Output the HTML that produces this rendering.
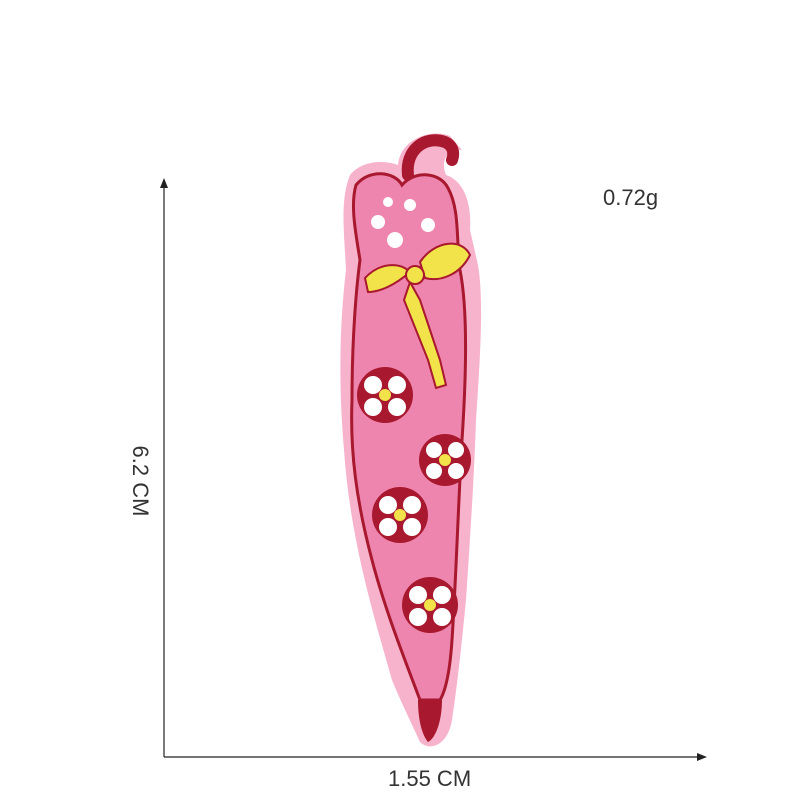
<!DOCTYPE html>
<html><head><meta charset="utf-8"><style>
html,body{margin:0;padding:0;background:#fff;}
#wrap{position:relative;width:800px;height:800px;overflow:hidden;font-family:"Liberation Sans",sans-serif;}
.lbl{position:absolute;color:#333;font-size:22px;}
</style></head><body>
<div id="wrap">
<svg width="800" height="800" viewBox="0 0 800 800">
  <g>
    <line x1="164" y1="184" x2="164" y2="757" stroke="#222" stroke-width="1.2"/>
    <polygon points="164,178 160,188 168,188" fill="#222"/>
    <line x1="164" y1="757" x2="700" y2="757" stroke="#222" stroke-width="1.2"/>
    <polygon points="707,757 697,753 697,761" fill="#222"/>
  </g>
  <g>
    <!-- outer light pink border -->
    <path d="M398,165 C400,140 430,128 450,136 L462,150 C448,148 440,160 446,175 C462,180 472,200 470,230 L478,265 C484,300 480,360 476,420 C474,480 470,540 466,600 C462,640 458,680 452,720 C448,745 430,752 420,742 C410,720 400,700 392,680 C375,620 350,540 344,450 C338,380 340,320 346,270 C344,230 340,200 350,175 C362,160 385,160 398,165 Z" fill="#f7b3cc"/>
    <!-- handle/hook -->
    <path d="M408,175 C405,150 425,135 445,142 C452,145 455,152 452,160" fill="none" stroke="#a8182e" stroke-width="12" stroke-linecap="round"/>
    <!-- inner body -->
    <path d="M356,185 C370,168 395,172 402,185 C415,170 440,172 448,188 C460,210 456,240 460,270 C468,310 466,380 462,440 C458,510 456,580 452,640 C450,670 446,690 440,700 L420,700 C405,660 385,610 372,560 C356,500 350,450 352,400 C352,340 356,290 360,260 C356,235 350,205 356,185 Z" fill="#ee85ae" stroke="#a8182e" stroke-width="3"/>
    <!-- tip -->
    <path d="M418,700 L442,700 C442,720 436,738 428,742 C422,735 418,720 418,700 Z" fill="#a8182e"/>
    <!-- heart top dots -->
    <g fill="#fff">
      <circle cx="378" cy="222" r="7"/><circle cx="395" cy="240" r="8"/><circle cx="410" cy="205" r="6"/>
      <circle cx="428" cy="225" r="7"/><circle cx="388" cy="202" r="5"/>
    </g>
    <!-- bow -->
    <g fill="#f2e34a" stroke="#a8182e" stroke-width="2">
      <path d="M365,278 C380,262 400,262 410,272 C395,285 380,292 368,292 Z"/>
      <path d="M420,262 C435,240 462,238 470,255 C460,275 440,282 425,278 Z"/>
      <path d="M410,282 L420,300 L430,330 L440,360 L446,385 L436,388 L428,360 L416,330 L404,300 Z"/>
      <circle cx="415" cy="275" r="9"/>
    </g>
    <!-- flowers -->
    <g>
      <g transform="translate(385,395)"><circle r="28" fill="#a8182e"/><circle cx="-12" cy="-10" r="9" fill="#fff"/><circle cx="12" cy="-10" r="9" fill="#fff"/><circle cx="-12" cy="12" r="9" fill="#fff"/><circle cx="12" cy="12" r="9" fill="#fff"/><circle r="6" fill="#f2e34a"/></g>
      <g transform="translate(445,460)"><circle r="26" fill="#a8182e"/><circle cx="-11" cy="-10" r="8" fill="#fff"/><circle cx="11" cy="-10" r="8" fill="#fff"/><circle cx="-11" cy="11" r="8" fill="#fff"/><circle cx="11" cy="11" r="8" fill="#fff"/><circle r="6" fill="#f2e34a"/></g>
      <g transform="translate(400,515)"><circle r="28" fill="#a8182e"/><circle cx="-12" cy="-10" r="9" fill="#fff"/><circle cx="12" cy="-10" r="9" fill="#fff"/><circle cx="-12" cy="12" r="9" fill="#fff"/><circle cx="12" cy="12" r="9" fill="#fff"/><circle r="6" fill="#f2e34a"/></g>
      <g transform="translate(430,605)"><circle r="28" fill="#a8182e"/><circle cx="-12" cy="-10" r="9" fill="#fff"/><circle cx="12" cy="-10" r="9" fill="#fff"/><circle cx="-12" cy="12" r="9" fill="#fff"/><circle cx="12" cy="12" r="9" fill="#fff"/><circle r="6" fill="#f2e34a"/></g>
    </g>
  </g>
</svg>
<div class="lbl" style="left:100px;top:468px;transform:rotate(90deg);transform-origin:center;width:80px;text-align:center;">6.2 CM</div>
<div class="lbl" style="left:388px;top:766px;">1.55 CM</div>
<div class="lbl" style="left:603px;top:185px;">0.72g</div>
</div>
</body></html>
